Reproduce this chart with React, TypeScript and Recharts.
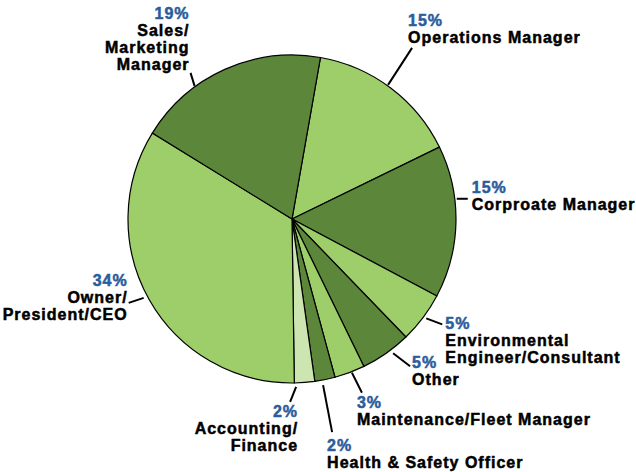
import React from "react";
import { PieChart, Pie, Cell } from "recharts";

const categories = [
  "Operations Manager",
  "Corproate Manager",
  "Environmental\nEngineer/Consultant",
  "Other",
  "Maintenance/Fleet Manager",
  "Health & Safety Officer",
  "Accounting/\nFinance",
  "Owner/\nPresident/CEO",
  "Sales/\nMarketing\nManager",
];
const percents = [15, 15, 5, 5, 3, 2, 2, 34, 19];
const percentLabels = ["15%", "15%", "5%", "5%", "3%", "2%", "2%", "34%", "19%"];

const LIGHT = "#9dce69";
const DARK = "#5c873a";
const PALE = "#cde5b1";
const fills = [LIGHT, DARK, LIGHT, DARK, LIGHT, DARK, PALE, LIGHT, DARK];

// label styling: angle offset (deg, clockwise), gap from edge, leader vector, text offset, anchor
const labelStyle = [
  { off: -1.4, gap: 1, lx: 24, ly: -37, tx: -4, ty: -27, anchor: "start" },
  { off: -8, gap: 2, lx: 11, ly: 0, tx: 4, ty: -11, anchor: "start" },
  { off: -0.5, gap: 3, lx: 16, ly: 6, tx: 3, ty: -1, anchor: "start" },
  { off: -2, gap: 4, lx: 17, ly: 13, tx: 2, ty: -4, anchor: "start" },
  { off: -0.7, gap: 1, lx: 10, ly: 20, tx: -5, ty: 10, anchor: "start" },
  { off: 1, gap: 5, lx: 9, ly: 47, tx: -5, ty: 13, anchor: "start" },
  { off: 3, gap: 4, lx: -6, ly: 15, tx: 8, ty: 10, anchor: "end" },
  { off: 1.6, gap: 4, lx: -15, ly: 5, tx: -1, ty: -22, anchor: "end" },
  { off: -12, gap: 1, lx: -4, ly: -13, tx: -1, ty: -59, anchor: "end" },
];

const data = categories.map((name, i) => ({ name, value: percents[i], pct: percentLabels[i] }));

const FONT = "'Liberation Sans', Arial, sans-serif";
const RAD = Math.PI / 180;

const renderLabel = (props: any) => {
  const { cx, cy, midAngle, outerRadius, index } = props;
  const s = labelStyle[index];
  const ang = midAngle - s.off; // recharts angle ccw
  const r = outerRadius + s.gap;
  const x1 = cx + r * Math.cos(ang * RAD);
  const y1 = cy - r * Math.sin(ang * RAD);
  const x2 = x1 + s.lx;
  const y2 = y1 + s.ly;
  const tx = x2 + s.tx;
  const ty = y2 + s.ty;
  const lines = data[index].name.split("\n");
  return (
    <g key={`lbl-${index}`}>
      <line x1={x1} y1={y1} x2={x2} y2={y2} stroke="#000" strokeWidth={2} />
      <text
        x={tx}
        y={ty}
        textAnchor={s.anchor as any}
        dominantBaseline="central"
        fontFamily={FONT}
        fontWeight="bold"
        fontSize={16}
        letterSpacing={1}
        fill="#2b5c9c"
        stroke="#2b5c9c"
        strokeWidth={0.5}
      >
        {data[index].pct}
      </text>
      {lines.map((ln, k) => (
        <text
          key={k}
          x={tx}
          y={ty + 17 * (k + 1)}
          textAnchor={s.anchor as any}
          dominantBaseline="central"
          fontFamily={FONT}
          fontWeight="bold"
          fontSize={16}
          letterSpacing={1}
          fill="#000"
          stroke="#000"
          strokeWidth={0.5}
        >
          {ln}
        </text>
      ))}
    </g>
  );
};

export default function App() {
  return (
    <div style={{ position: "absolute", left: 0, top: 0, width: 636, height: 472, background: "#fff" }}>
      <PieChart width={636} height={472} margin={{ top: 0, right: 0, bottom: 0, left: 0 }}>
        <Pie
          data={data}
          dataKey="value"
          cx={292}
          cy={219}
          outerRadius={164}
          startAngle={80}
          endAngle={-280}
          stroke="#000"
          strokeWidth={1.2}
          isAnimationActive={false}
          labelLine={false}
          label={renderLabel}
        >
          {data.map((d, i) => (
            <Cell key={i} fill={fills[i]} />
          ))}
        </Pie>
      </PieChart>
    </div>
  );
}
